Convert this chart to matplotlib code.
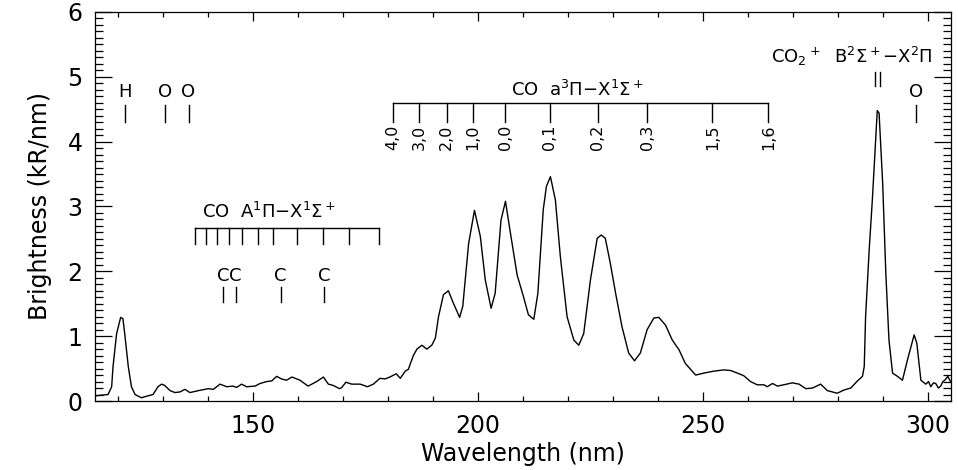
import matplotlib.pyplot as plt
from matplotlib.ticker import MultipleLocator

plt.rcParams['font.family'] = ['DejaVu Sans']
plt.rcParams['mathtext.default'] = 'regular'

# Dayglow spectrum (nm, kR/nm)
wavelength = [
    114.8, 117.7, 118.5, 118.8, 119.6, 120.5, 121.0, 121.4, 122.2, 122.9,
    123.7, 125.1, 126.6, 127.7, 128.8, 129.6, 130.3, 131.5, 132.6, 133.7,
    134.8, 135.9, 137.8, 140.0, 141.1, 142.6, 144.1, 145.5, 146.3, 147.4,
    148.5, 150.4, 151.5, 153.0, 154.1, 155.2, 156.3, 157.4, 158.6, 159.3,
    160.4, 162.2, 164.1, 165.6, 166.7, 167.8, 169.2, 169.7, 170.6, 171.9,
    173.8, 175.4, 176.7, 178.2, 179.3, 180.4, 181.8, 182.7, 183.8, 184.5,
    185.6, 186.4, 187.5, 188.6, 189.7, 190.5, 191.2, 192.3, 193.4, 194.5,
    195.9, 196.6, 197.9, 199.2, 200.5, 201.6, 202.9, 203.8, 205.1, 206.1,
    207.2, 208.7, 210.1, 211.2, 212.4, 213.3, 214.5, 215.2, 216.1, 217.2,
    218.3, 219.8, 221.3, 222.4, 223.5, 225.0, 226.5, 227.4, 228.3, 229.4,
    230.6, 232.0, 233.5, 234.8, 236.1, 237.6, 239.1, 240.2, 241.7, 243.2,
    244.7, 246.1, 248.4, 250.2, 252.4, 254.7, 256.2, 257.7, 259.1, 260.6,
    262.1, 263.6, 264.3, 265.5, 266.6, 268.0, 269.9, 271.4, 272.9, 274.4,
    276.2, 277.7, 279.9, 281.4, 282.9, 284.4, 285.5, 285.9, 286.2, 287.0,
    287.7, 288.3, 288.8, 289.2, 290.0, 290.7, 291.4, 292.2, 293.3, 294.4,
    295.5, 296.3, 297.0, 297.6, 298.5, 299.6, 300.2, 300.7, 301.3, 301.8,
    302.4, 302.9, 303.4, 303.8, 304.5, 305.1,
]
brightness = [
    0.08, 0.10, 0.22, 0.53, 1.04, 1.29, 1.27, 1.04, 0.53, 0.22,
    0.10, 0.05, 0.08, 0.10, 0.22, 0.26, 0.24, 0.16, 0.13, 0.14,
    0.18, 0.13, 0.16, 0.19, 0.18, 0.26, 0.22, 0.23, 0.21, 0.26,
    0.22, 0.23, 0.27, 0.30, 0.31, 0.38, 0.34, 0.32, 0.37, 0.35,
    0.32, 0.23, 0.30, 0.37, 0.26, 0.24, 0.19, 0.21, 0.29, 0.26,
    0.26, 0.22, 0.26, 0.35, 0.34, 0.37, 0.42, 0.35, 0.46, 0.49,
    0.70, 0.80, 0.86, 0.80, 0.86, 0.97, 1.30, 1.64, 1.70, 1.51,
    1.29, 1.46, 2.43, 2.94, 2.54, 1.87, 1.43, 1.66, 2.79, 3.08,
    2.59, 1.94, 1.61, 1.33, 1.26, 1.66, 2.95, 3.31, 3.46, 3.10,
    2.23, 1.30, 0.94, 0.86, 1.04, 1.87, 2.51, 2.56, 2.51, 2.13,
    1.66, 1.15, 0.74, 0.62, 0.74, 1.10, 1.28, 1.29, 1.17, 0.94,
    0.79, 0.58, 0.40, 0.43, 0.46, 0.48, 0.47, 0.43, 0.39, 0.30,
    0.25, 0.25, 0.22, 0.27, 0.23, 0.25, 0.28, 0.26, 0.19, 0.20,
    0.26, 0.16, 0.12, 0.17, 0.20, 0.31, 0.38, 0.53, 1.30, 2.33,
    3.10, 3.87, 4.48, 4.44, 3.36, 1.97, 0.94, 0.43, 0.38, 0.32,
    0.63, 0.84, 1.02, 0.89, 0.32, 0.26, 0.30, 0.22, 0.28, 0.27,
    0.20, 0.23, 0.30, 0.32, 0.38, 0.30,
]

# atomic emission lines
atom_wl = [121.5, 130.3, 135.6, 297.4]
atom_names = ['H', 'O', 'O', 'O']
carbon_wl = [143.3, 146.1, 156.1, 165.7]

# CO Fourth Positive (A-X) band heads
fourth_pos_wl = [137.0, 139.5, 142.0, 144.7, 147.4, 151.0, 154.3,
                 159.8, 165.5, 171.4, 178.0]

# CO Cameron (a-X) band heads
cameron_wl = [181.0, 186.9, 193.0, 198.9, 206.1, 215.9, 226.6, 237.6,
              252.1, 264.6]
cameron_names = ['4,0', '3,0', '2,0', '1,0', '0,0', '0,1', '0,2', '0,3',
                 '1,5', '1,6']

# CO2+ (B-X) doublet
co2p_wl = [288.2, 289.3]

fig = plt.figure(figsize=(9.58, 4.70), dpi=100)
ax = fig.add_axes([0.0992, 0.1468, 0.8935, 0.8277])

ax.plot(wavelength, brightness, color='black', lw=1.0)

ax.set_xlim(114.8, 305.2)
ax.set_ylim(0, 6)
ax.xaxis.set_major_locator(MultipleLocator(50))
ax.xaxis.set_minor_locator(MultipleLocator(10))
ax.yaxis.set_major_locator(MultipleLocator(1))
ax.yaxis.set_minor_locator(MultipleLocator(0.1))
ax.tick_params(which='both', direction='in', top=True, right=True,
               labelsize=17, width=0.9, color='black')
ax.tick_params(axis='x', which='major', length=6.5, pad=9)
ax.tick_params(axis='x', which='minor', length=3.6)
ax.tick_params(axis='y', which='major', length=12, pad=9)
ax.tick_params(axis='y', which='minor', length=6)
for s in ax.spines.values():
    s.set_linewidth(0.9)

ax.set_xlabel('Wavelength (nm)', fontsize=17, labelpad=3)
ax.set_ylabel('Brightness (kR/nm)', fontsize=17, labelpad=11)

fs = 13
# atomic line markers
for w, name in zip(atom_wl, atom_names):
    ax.plot([w, w], [4.31, 4.57], color='black', lw=1.0)
    ax.text(w, 4.77, name, ha='center', va='center', fontsize=fs)
for w in carbon_wl:
    ax.plot([w, w], [1.53, 1.76], color='black', lw=1.0)
    ax.text(w, 1.93, 'C', ha='center', va='center', fontsize=fs)

# Fourth Positive ladder
ax.plot([fourth_pos_wl[0], fourth_pos_wl[-1]], [2.67, 2.67], color='black', lw=1.0)
for w in fourth_pos_wl:
    ax.plot([w, w], [2.42, 2.67], color='black', lw=1.0)
ax.text(138.6, 2.82, r'CO  A$^1\Pi$$-$X$^1\Sigma^+$', ha='left',
        va='baseline', fontsize=fs)

# Cameron ladder
ax.plot([cameron_wl[0], cameron_wl[-1]], [4.59, 4.59], color='black', lw=1.0)
for w, name in zip(cameron_wl, cameron_names):
    ax.plot([w, w], [4.31, 4.59], color='black', lw=1.0)
    ax.text(w, 4.26, name, ha='center', va='top', rotation=90, fontsize=11.5)
ax.text(222.0, 4.70, r'CO  a$^3\Pi$$-$X$^1\Sigma^+$', ha='center',
        va='baseline', fontsize=fs)

# CO2+ doublet
for w in co2p_wl:
    ax.plot([w, w], [4.86, 5.08], color='black', lw=1.0)
ax.text(283.1, 5.21, r'CO$_2$$^+$  B$^2\Sigma^+$$-$X$^2\Pi$', ha='center',
        va='baseline', fontsize=fs)

fig.savefig('out.png', dpi=100)
